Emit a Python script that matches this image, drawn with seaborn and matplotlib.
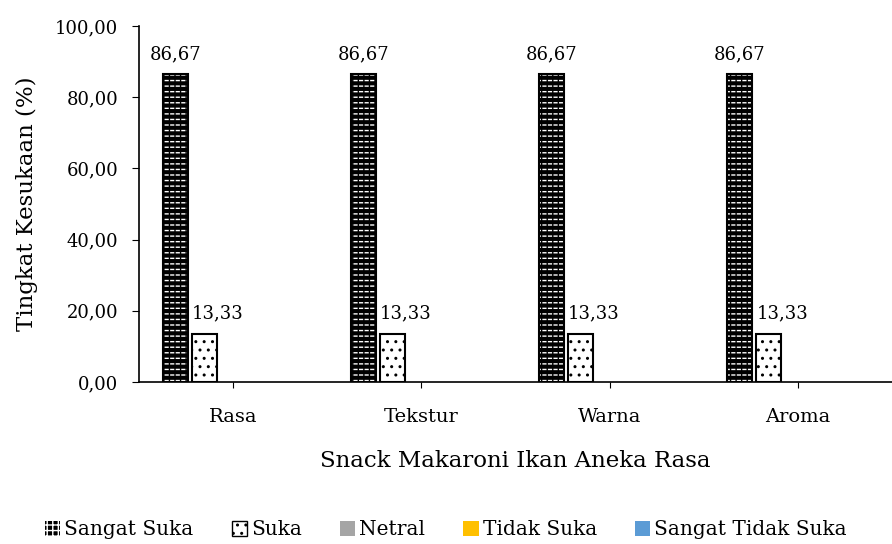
import seaborn as sns
import matplotlib.pyplot as plt
import pandas as pd
from matplotlib.patches import Rectangle

# data
categories = ["Rasa", "Tekstur", "Warna", "Aroma"]
series = ["Sangat Suka", "Suka", "Netral", "Tidak Suka", "Sangat Tidak Suka"]
sangat_suka = [86.67, 86.67, 86.67, 86.67]
suka = [13.33, 13.33, 13.33, 13.33]
netral = [0, 0, 0, 0]
tidak_suka = [0, 0, 0, 0]
sangat_tidak_suka = [0, 0, 0, 0]
y_ticks = [0, 20, 40, 60, 80, 100]

values = [sangat_suka, suka, netral, tidak_suka, sangat_tidak_suka]
rows = []
for name, vals in zip(series, values):
    for cat, v in zip(categories, vals):
        rows.append({"kategori": cat, "seri": name, "nilai": v})
df = pd.DataFrame(rows)

colors = ["black", "white", "#a5a5a5", "#ffc000", "#5b9bd5"]

sns.set_style("white")
plt.rcParams["font.family"] = ["DejaVu Serif"]
plt.rcParams["text.color"] = "black"
plt.rcParams["xtick.color"] = "black"
plt.rcParams["ytick.color"] = "black"
plt.rcParams["axes.labelcolor"] = "black"
plt.rcParams["hatch.linewidth"] = 1.0

fig, ax = plt.subplots(figsize=(8.92, 5.44), dpi=100)
fig.subplots_adjust(left=0.156, right=1.0, top=0.952, bottom=0.298)

sns.barplot(data=df, x="kategori", y="nilai", hue="seri", hue_order=series,
            palette=colors, width=0.77, ax=ax, legend=False, saturation=1)


def brick(x, w, h):
    # black bar with short white dashes
    ax.add_patch(Rectangle((x, 0), w, h, facecolor="black", edgecolor="white",
                           hatch="---", lw=0))
    ax.add_patch(Rectangle((x, 0), w, h, fill=False, edgecolor="black",
                           hatch="|||", lw=0))
    ax.add_patch(Rectangle((x, 0), w, h, fill=False, edgecolor="black", lw=1.5))


for i, cont in enumerate(ax.containers):
    for bar, v in zip(cont, values[i]):
        w = bar.get_width()
        bar.set_width(w * 0.86)
        bar.set_x(bar.get_x() + w * 0.07)
        if i == 0:
            bar.set_visible(False)
            brick(bar.get_x(), bar.get_width(), v)
            ax.text(bar.get_x() + bar.get_width() / 2, v + 3, f"{v:.2f}".replace(".", ","),
                    ha="center", va="bottom", fontsize=13)
        elif i == 1:
            bar.set_facecolor("white")
            bar.set_edgecolor("black")
            bar.set_hatch("..")
            bar.set_linewidth(1.5)
            ax.text(bar.get_x(), v + 3.5, f"{v:.2f}".replace(".", ","),
                    ha="left", va="bottom", fontsize=13)

ax.set_ylim(0, 100)
ax.set_xlim(-0.5, 3.5)
ax.set_yticks(y_ticks)
ax.set_yticklabels([f"{t:.2f}".replace(".", ",") for t in y_ticks], fontsize=13)
ax.tick_params(axis="x", labelsize=14, length=4, direction="out", bottom=True, pad=15)
ax.tick_params(axis="y", length=5, direction="out", left=True, pad=10)
sns.despine(ax=ax)
for s in ["left", "bottom"]:
    ax.spines[s].set_color("black")
    ax.spines[s].set_linewidth(1.2)
ax.set_xlabel("Snack Makaroni Ikan Aneka Rasa", fontsize=16.5, labelpad=17)
ax.set_ylabel("Tingkat Kesukaan (%)", fontsize=16.5, labelpad=12)

handles = []
for i, name in enumerate(series):
    if i == 0:
        h = Rectangle((0, 0), 1, 1, facecolor="black", edgecolor="white", hatch="+++", lw=0)
    elif i == 1:
        h = Rectangle((0, 0), 1, 1, facecolor="white", edgecolor="black", hatch="..", lw=1)
    else:
        h = Rectangle((0, 0), 1, 1, facecolor=colors[i], edgecolor="none")
    handles.append(h)
fig.legend(handles, series, loc="lower center", ncol=5, frameon=False, fontsize=14.5,
           bbox_to_anchor=(0.5, -0.025), handlelength=0.75, handleheight=0.75,
           handletextpad=0.2, columnspacing=1.9)

fig.savefig("out.png", dpi=100)
